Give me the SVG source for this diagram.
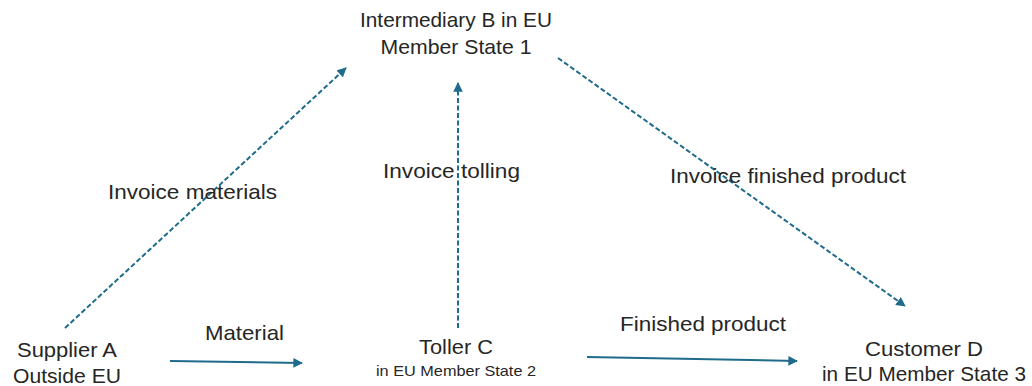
<svg xmlns="http://www.w3.org/2000/svg" width="1032" height="386" viewBox="0 0 1032 386">
<defs>
<marker id="ah" viewBox="0 0 10 10" refX="9" refY="5" markerWidth="4.8" markerHeight="4.8" orient="auto" markerUnits="strokeWidth">
<path d="M0,0 L10,5 L0,10 z" fill="#1f6b8c"/>
</marker>
<style>
text{font-family:"Liberation Sans",Arial,sans-serif;fill:#262626;font-size:21px}
.sm{font-size:15px}
.c{text-anchor:middle}
.solid{stroke:#1f6b8c;stroke-width:2;fill:none}
.dash{stroke:#1f6b8c;stroke-width:2;fill:none;stroke-dasharray:5 2.5}
</style>
</defs>
<rect width="1032" height="386" fill="#fff"/>
<g id="connectors">
<line class="dash" x1="65" y1="328" x2="346" y2="68" marker-end="url(#ah)"/>
<line class="dash" x1="458" y1="328" x2="458" y2="83" marker-end="url(#ah)"/>
<line class="dash" x1="558" y1="58" x2="905" y2="306" marker-end="url(#ah)"/>
<line class="solid" x1="170" y1="361" x2="302" y2="363" marker-end="url(#ah)"/>
<line class="solid" x1="587" y1="357" x2="797" y2="361" marker-end="url(#ah)"/>
<text x="108" y="199" textLength="169" lengthAdjust="spacingAndGlyphs">Invoice materials</text>
<text x="383" y="178" textLength="137" lengthAdjust="spacingAndGlyphs">Invoice tolling</text>
<text x="670" y="183" textLength="236" lengthAdjust="spacingAndGlyphs">Invoice finished product</text>
<text x="205" y="340" textLength="79" lengthAdjust="spacingAndGlyphs">Material</text>
<text x="620" y="331" textLength="166" lengthAdjust="spacingAndGlyphs">Finished product</text>
</g>
<g id="nodeB">
<text class="c" x="456" y="27" textLength="192" lengthAdjust="spacingAndGlyphs">Intermediary B in EU</text>
<text class="c" x="456" y="54" textLength="151" lengthAdjust="spacingAndGlyphs">Member State 1</text>
</g>
<g id="nodeA">
<text class="c" x="67" y="357" textLength="100" lengthAdjust="spacingAndGlyphs">Supplier A</text>
<text class="c" x="67" y="383" textLength="108" lengthAdjust="spacingAndGlyphs">Outside EU</text>
</g>
<g id="nodeC">
<text class="c" x="456" y="354" textLength="74" lengthAdjust="spacingAndGlyphs">Toller C</text>
<text class="c sm" x="456" y="376" textLength="160" lengthAdjust="spacingAndGlyphs">in EU Member State 2</text>
</g>
<g id="nodeD">
<text class="c" x="924" y="356" textLength="118" lengthAdjust="spacingAndGlyphs">Customer D</text>
<text class="c" x="924" y="381" textLength="204" lengthAdjust="spacingAndGlyphs">in EU Member State 3</text>
</g>
</svg>
